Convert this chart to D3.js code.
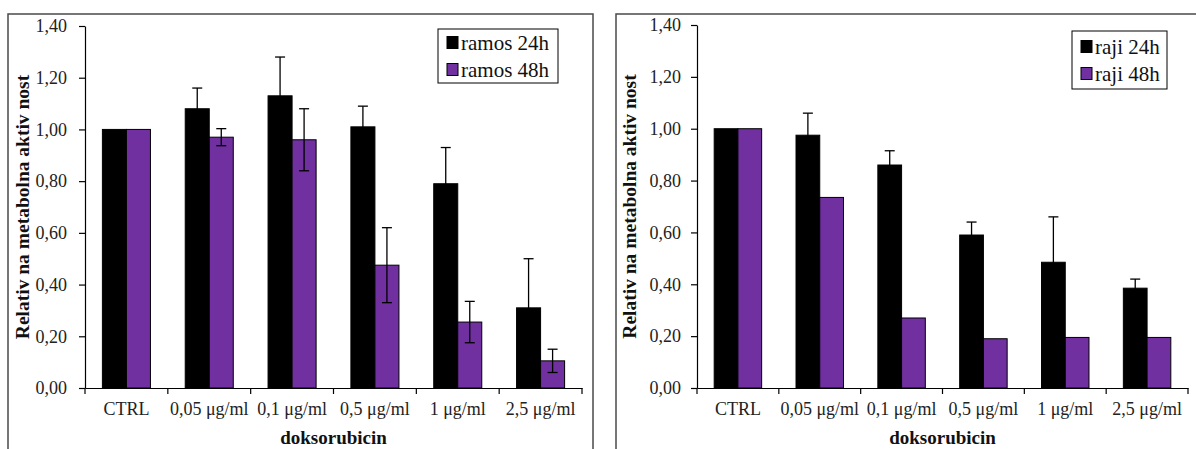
<!DOCTYPE html>
<html>
<head>
<meta charset="utf-8">
<script src="https://cdn.jsdelivr.net/npm/d3@7/dist/d3.min.js"></script>
<style>
  body { margin: 0; background: #fff; }
  svg text { font-family: "Liberation Serif", "Times New Roman", Tinos, "DejaVu Serif", serif !important; }
</style>
</head>
<body>
<div id="chart"></div>
<script>
// data
var categories = ["CTRL", "0,05 μg/ml", "0,1 μg/ml", "0,5 μg/ml", "1 μg/ml", "2,5 μg/ml"];
var yTicks = [0, 0.2, 0.4, 0.6, 0.8, 1.0, 1.2, 1.4];

var ramos24 = [1.00, 1.08, 1.13, 1.01, 0.79, 0.31];
var ramos24Err = [null, 0.08, 0.15, 0.08, 0.14, 0.19];
var ramos48 = [1.00, 0.97, 0.96, 0.475, 0.255, 0.105];
var ramos48Err = [null, 0.033, 0.12, 0.145, 0.08, 0.045];

var raji24 = [1.00, 0.975, 0.86, 0.59, 0.485, 0.385];
var raji24Err = [null, 0.085, 0.055, 0.05, 0.175, 0.035];
var raji48 = [1.00, 0.735, 0.27, 0.19, 0.195, 0.195];
var raji48Err = [null, null, null, null, null, null];

var width = 1196, height = 449;
var purple = "#7030a0";

var svg = d3.select("#chart")
    .append("svg")
    .attr("width", width)
    .attr("height", height)
    .style("display", "block");

var locale = d3.formatLocale({decimal: ",", thousands: ".", grouping: [3], currency: ["", ""]});
var fmt = locale.format(".2f");

function drawPanel(p){
    // frame
    svg.append("rect")
        .attr("x", p.frame[0]).attr("y", p.frame[1])
        .attr("width", p.frame[2]).attr("height", p.frame[3])
        .attr("fill", "none")
        .attr("stroke", "#4a4a4a")
        .attr("stroke-width", 1.5);

    var y = d3.scaleLinear().domain([0, 1.4]).range([p.bottom, p.top]);
    var x0 = d3.scaleBand().domain(categories)
        .range([p.left, p.right])
        .paddingInner(0.42).paddingOuter(0.21);
    var x1 = d3.scaleBand().domain(["h24", "h48"]).range([0, x0.bandwidth()]);
    var xb = d3.scaleLinear().domain([0, categories.length]).range([p.left, p.right]);

    var g = svg.append("g");

    var rows = categories.map(function(c, i){
        return [
            {cat: c, key: "h24", v: p.s24[i], e: p.e24[i], fill: "#000"},
            {cat: c, key: "h48", v: p.s48[i], e: p.e48[i], fill: purple}
        ];
    });
    var flat = [].concat.apply([], rows);

    g.selectAll(".bar")
        .data(flat).enter().append("rect")
        .attr("class", "bar")
        .attr("x", function(d){ return x0(d.cat) + x1(d.key); })
        .attr("y", function(d){ return y(d.v); })
        .attr("width", x1.bandwidth())
        .attr("height", function(d){ return y(0) - y(d.v); })
        .attr("fill", function(d){ return d.fill; })
        .attr("stroke", "#000")
        .attr("stroke-width", 1);

    var errs = flat.filter(function(d){ return d.e != null; });
    var cx = function(d){ return x0(d.cat) + x1(d.key) + x1.bandwidth() / 2; };
    var eg = g.selectAll(".err").data(errs).enter().append("g")
        .attr("class", "err")
        .attr("stroke", "#000")
        .attr("stroke-width", 1.3);
    eg.append("line")
        .attr("x1", cx).attr("x2", cx)
        .attr("y1", function(d){ return y(d.v + d.e); })
        .attr("y2", function(d){ return y(d.v - d.e); });
    eg.append("line")
        .attr("x1", function(d){ return cx(d) - 5; }).attr("x2", function(d){ return cx(d) + 5; })
        .attr("y1", function(d){ return y(d.v + d.e); })
        .attr("y2", function(d){ return y(d.v + d.e); });
    eg.append("line")
        .attr("x1", function(d){ return cx(d) - 5; }).attr("x2", function(d){ return cx(d) + 5; })
        .attr("y1", function(d){ return y(d.v - d.e); })
        .attr("y2", function(d){ return y(d.v - d.e); });

    // y axis
    var yAxis = svg.append("g")
        .attr("transform", "translate(" + p.left + ",0)")
        .call(d3.axisLeft(y).tickValues(yTicks).tickSize(6).tickSizeOuter(0).tickPadding(p.yPad).tickFormat(fmt));
    yAxis.selectAll("text").attr("font-size", 18).attr("fill", "#222");
    yAxis.selectAll("line, path").attr("stroke", "#000").attr("stroke-width", 1.2);

    // x axis: labels in the middle, ticks at boundaries
    var xAxis = svg.append("g")
        .attr("transform", "translate(0," + p.bottom + ")")
        .call(d3.axisBottom(x0).tickSize(0).tickSizeOuter(0).tickPadding(14));
    xAxis.selectAll("text").attr("font-size", 18).attr("fill", "#222");
    xAxis.select(".domain").attr("stroke", "#000").attr("stroke-width", 1.2);
    xAxis.selectAll(".bound")
        .data(d3.range(categories.length + 1)).enter().append("line")
        .attr("class", "bound")
        .attr("x1", xb).attr("x2", xb)
        .attr("y1", 0).attr("y2", 6)
        .attr("stroke", "#000").attr("stroke-width", 1.2);

    // titles
    svg.append("text")
        .attr("x", (p.left + p.right) / 2)
        .attr("y", p.bottom + 56)
        .attr("text-anchor", "middle")
        .attr("font-size", 19)
        .attr("font-weight", "bold")
        .attr("fill", "#111")
        .text("doksorubicin");

    svg.append("text")
        .attr("transform", "translate(" + p.yTitleX + "," + ((p.top + p.bottom) / 2) + ") rotate(-90)")
        .attr("text-anchor", "middle")
        .attr("font-size", 19.5)
        .attr("font-weight", "bold")
        .attr("fill", "#111")
        .text("Relativ na metabolna aktiv nost");

    // legend
    var lg = svg.append("g").attr("transform", "translate(" + p.legend[0] + "," + p.legend[1] + ")");
    lg.append("rect")
        .attr("width", p.legend[2]).attr("height", p.legend[3])
        .attr("fill", "#fff").attr("stroke", "#000").attr("stroke-width", 1);
    var items = lg.selectAll(".item").data(p.names).enter().append("g")
        .attr("class", "item")
        .attr("transform", function(d, i){ return "translate(9," + (p.legend[3] / 2 + (i - 0.5) * 27) + ")"; });
    items.append("rect")
        .attr("x", 0).attr("y", -6)
        .attr("width", 11).attr("height", 12)
        .attr("fill", function(d, i){ return i === 0 ? "#000" : purple; })
        .attr("stroke", "#000").attr("stroke-width", 1);
    items.append("text")
        .attr("x", 14).attr("y", 7)
        .attr("font-size", 21)
        .attr("fill", "#111")
        .text(function(d){ return d; });
}

drawPanel({
    frame: [8, 14, 585, 460],
    left: 85, right: 582, top: 26, bottom: 388,
    yPad: 12, yTitleX: 29,
    s24: ramos24, e24: ramos24Err, s48: ramos48, e48: ramos48Err,
    names: ["ramos 24h", "ramos 48h"],
    legend: [438, 29, 120, 54]
});

drawPanel({
    frame: [616, 14, 600, 460],
    left: 697, right: 1188, top: 25, bottom: 388,
    yPad: 10, yTitleX: 636,
    s24: raji24, e24: raji24Err, s48: raji48, e48: raji48Err,
    names: ["raji 24h", "raji 48h"],
    legend: [1072, 31, 95, 58]
});
</script>
</body>
</html>
